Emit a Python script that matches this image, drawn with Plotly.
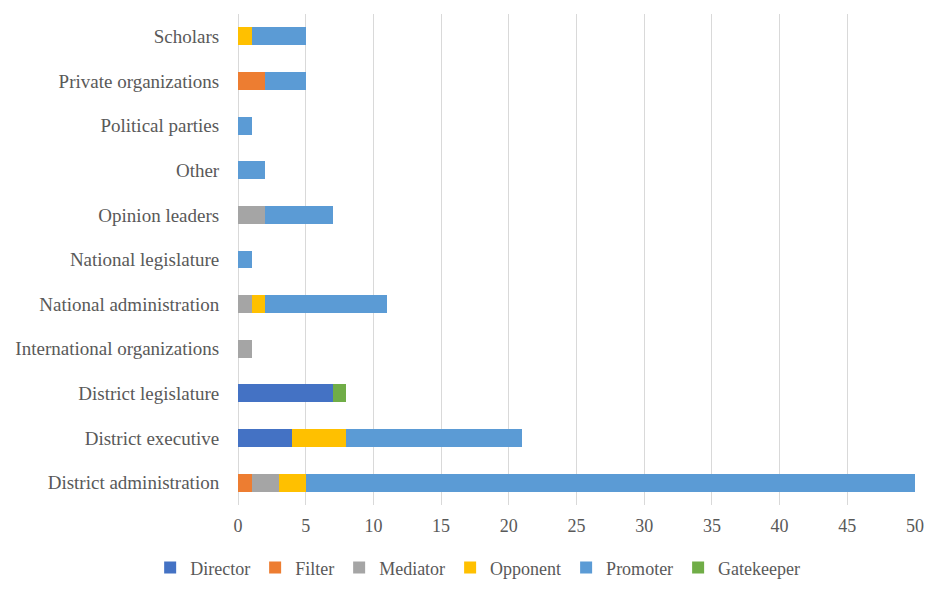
import plotly.graph_objects as go

categories = ["District administration", "District executive", "District legislature",
              "International organizations", "National administration", "National legislature",
              "Opinion leaders", "Other", "Political parties", "Private organizations", "Scholars"]

director = [0, 4, 7, 0, 0, 0, 0, 0, 0, 0, 0]
filter_ = [1, 0, 0, 0, 0, 0, 0, 0, 0, 2, 0]
mediator = [2, 0, 0, 1, 1, 0, 2, 0, 0, 0, 0]
opponent = [2, 4, 0, 0, 1, 0, 0, 0, 0, 0, 1]
promoter = [45, 13, 0, 0, 9, 1, 5, 2, 1, 3, 4]
gatekeeper = [0, 0, 1, 0, 0, 0, 0, 0, 0, 0, 0]

series = [
    ("Director", director, "#4472c4"),
    ("Filter", filter_, "#ed7d31"),
    ("Mediator", mediator, "#a5a5a5"),
    ("Opponent", opponent, "#ffc000"),
    ("Promoter", promoter, "#5b9bd5"),
    ("Gatekeeper", gatekeeper, "#70ad47"),
]

serif = "Liberation Serif"

fig = go.Figure()
for name, vals, color in series:
    fig.add_trace(go.Bar(y=categories, x=vals, name=name, orientation="h",
                         marker=dict(color=color, line=dict(width=0))))

fig.update_layout(
    barmode="stack",
    bargap=0.6,
    width=941, height=595,
    margin=dict(l=230, r=34, t=6, b=98),
    plot_bgcolor="white", paper_bgcolor="white",
    font=dict(family=serif, size=19, color="#595959"),
    legend=dict(orientation="h", x=0.354, xanchor="center", y=-0.128, yanchor="middle",
                font=dict(family=serif, size=18, color="#595959"),
                traceorder="normal", itemwidth=30),
)
fig.update_xaxes(range=[0, 50], dtick=5, showgrid=True, gridcolor="#d9d9d9", gridwidth=1.3,
                 zeroline=True, zerolinecolor="#d9d9d9", zerolinewidth=1.3,
                 tickfont=dict(family=serif, size=18, color="#595959"),
                 ticks="outside", ticklen=4, tickcolor="rgba(0,0,0,0)")
fig.update_yaxes(ticks="outside", ticklen=14, tickcolor="rgba(0,0,0,0)", automargin=False,
                 tickfont=dict(family=serif, size=19, color="#595959"))

fig.write_html("out.html")
